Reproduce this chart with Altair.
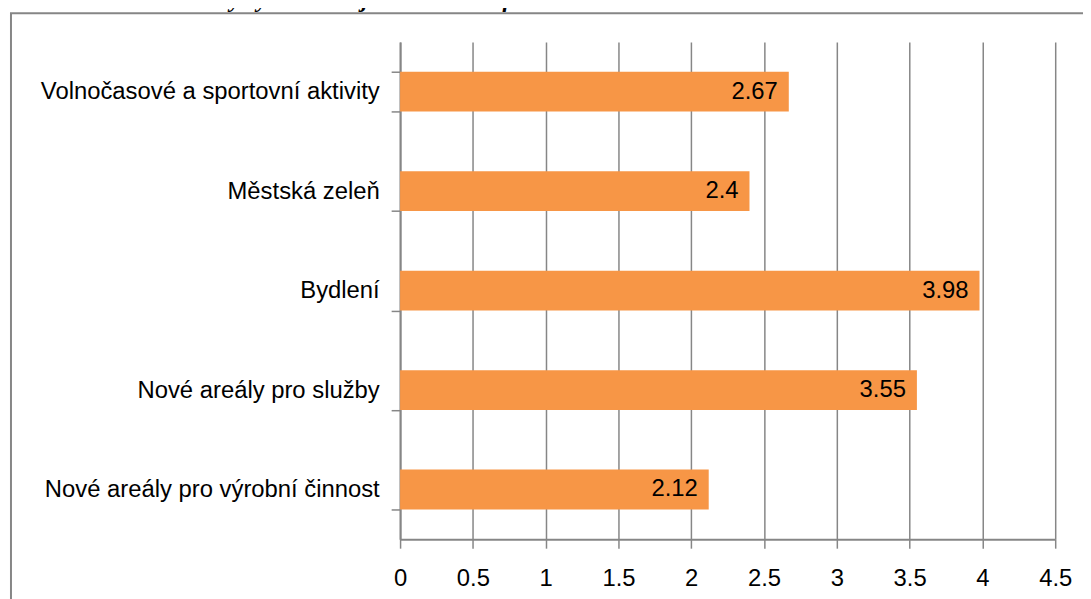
import altair as alt
import pandas as pd

categories = [
    "Volnočasové a sportovní aktivity",
    "Městská zeleň",
    "Bydlení",
    "Nové areály pro služby",
    "Nové areály pro výrobní činnost",
]
values = [2.67, 2.4, 3.98, 3.55, 2.12]
x_ticks = [0, 0.5, 1, 1.5, 2, 2.5, 3, 3.5, 4, 4.5]
title_text = "Graf 2: Potenciální varianty využívání v jednom brownfieldu – v Karviné"

df = pd.DataFrame({"cat": categories, "val": values})

W, H = 660, 501
GRAY = "#868686"
FONT = "Liberation Sans"

x_enc = alt.X(
    "val:Q",
    scale=alt.Scale(domain=[0, 4.5], nice=False, zero=True),
    axis=alt.Axis(
        values=x_ticks, format="~g", title=None, grid=True,
        gridColor=GRAY, gridWidth=1.5, domainColor=GRAY, domainWidth=2,
        tickColor=GRAY, tickWidth=1.5, tickSize=9,
        labelFontSize=24, labelFont=FONT, labelColor="black",
        labelPadding=19, labelFlush=False,
    ),
)
y_enc = alt.Y(
    "cat:N", sort=categories,
    scale=alt.Scale(paddingInner=0.6, paddingOuter=0.3),
    axis=alt.Axis(
        title=None, tickBand="extent", domainColor=GRAY, domainWidth=2,
        tickColor=GRAY, tickWidth=1.5, tickSize=9,
        labelFontSize=24, labelFont=FONT, labelColor="black",
        labelPadding=12, labelLimit=420,
    ),
)

base = alt.Chart(df)
bars = base.mark_bar(color="#F79646").encode(x=x_enc, y=y_enc)
labels = base.mark_text(
    align="right", baseline="middle", dx=-11, fontSize=24, font=FONT, color="black"
).encode(x="val:Q", y=alt.Y("cat:N", sort=categories), text=alt.Text("val:Q", format="~g"))

one = alt.Chart(pd.DataFrame({"a": [0]}))
frame = one.mark_rect(filled=False, stroke=GRAY, strokeWidth=2).encode(
    x=alt.value(-392), x2=alt.value(W + 80), y=alt.value(-29), y2=alt.value(H + 150)
)
title = one.mark_text(
    text=title_text, font="Liberation Serif", fontWeight="bold", fontStyle="italic",
    fontSize=24, align="left", baseline="alphabetic", color="black",
).encode(x=alt.value(-440), y=alt.value(-35))

chart = alt.layer(frame, bars, labels, title).properties(
    width=W, height=H,
    padding={"left": 395, "top": 32, "right": 28, "bottom": 58},
    autosize=alt.AutoSizeParams(type="none"),
).configure_view(stroke=None)

chart.save("out.html", embed_options={"renderer": "svg", "actions": False})
